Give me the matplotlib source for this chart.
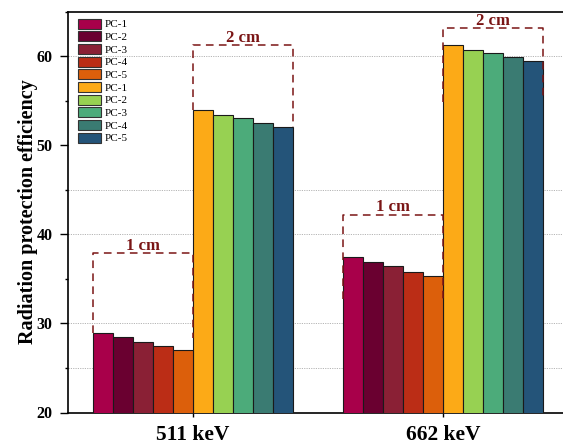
import matplotlib
matplotlib.use('Agg')
import matplotlib.pyplot as plt
from matplotlib.patches import Patch
from matplotlib.ticker import MultipleLocator

# ---------------- data ----------------
groups = ['511 keV', '662 keV']
samples = ['PC-1', 'PC-2', 'PC-3', 'PC-4', 'PC-5']
eff_511_1cm = [28.9, 28.45, 27.95, 27.5, 27.0]
eff_511_2cm = [53.9, 53.4, 53.0, 52.5, 52.0]
eff_662_1cm = [37.4, 36.9, 36.4, 35.8, 35.3]
eff_662_2cm = [61.2, 60.7, 60.3, 59.9, 59.5]
colors_1cm = ['#A8004A', '#6A0030', '#8A2035', '#BB2D16', '#DC5F0B']
colors_2cm = ['#FCAA17', '#97D152', '#4CAB7A', '#3A7B72', '#245479']
grid_levels = [25, 30, 40, 45, 60]

# dashed thickness boxes: (group index, side, top, left_bottom, right_bottom, label)
boxes = [
    (0, 0, 37.9, 28.9, 28.4, '1 cm'),
    (0, 1, 61.2, 53.9, 52.0, '2 cm'),
    (1, 0, 42.2, 32.7, 32.7, '1 cm'),
    (1, 1, 63.1, 54.8, 55.4, '2 cm'),
]

# ---------------- figure ----------------
W, H = 563, 445
fig = plt.figure(figsize=(W / 100, H / 100), dpi=100)
ax = fig.add_axes([68 / W, 32.5 / H, 500 / W, 401 / H])

serif = 'Liberation Serif'
bw = 0.08
series_1cm = [eff_511_1cm, eff_662_1cm]
series_2cm = [eff_511_2cm, eff_662_2cm]

handles = []
for gi in range(len(groups)):
    for i in range(5):
        x = gi - 0.4 + bw * (i + 0.5)
        ax.bar(x, series_1cm[gi][i], width=bw, bottom=0, color=colors_1cm[i],
               edgecolor='#1a1a1a', linewidth=0.8, zorder=3)
        x2 = gi + bw * (i + 0.5)
        ax.bar(x2, series_2cm[gi][i], width=bw, bottom=0, color=colors_2cm[i],
               edgecolor='#1a1a1a', linewidth=0.8, zorder=3)

for i in range(5):
    handles.append(Patch(facecolor=colors_1cm[i], edgecolor='#333333', linewidth=0.8, label=samples[i]))
for i in range(5):
    handles.append(Patch(facecolor=colors_2cm[i], edgecolor='#333333', linewidth=0.8, label=samples[i]))

for g in grid_levels:
    ax.axhline(g, color='#b5b5b5', linestyle=(0, (1.2, 1.2)), linewidth=0.7, zorder=1)

box_color = '#7A1515'
for gi, side, top, lb, rb, lab in boxes:
    xl = gi - 0.4 + 0.4 * side
    xr = xl + 0.4
    ax.plot([xl, xl, xr, xr], [lb, top, top, rb], color=box_color,
            linestyle=(0, (5, 3.5)), linewidth=1.1, zorder=4)
    ax.annotate(lab, xy=((xl + xr) / 2, top), xytext=(0, 2.5), textcoords='offset points',
                ha='center', va='baseline', fontsize=12, fontweight='bold',
                family=serif, color=box_color, zorder=5)

ax.set_xlim(-0.5, 1.5)
ax.set_ylim(20, 65)
ax.set_xticks([0, 1])
ax.set_xticklabels(groups, fontsize=15.5, fontweight='bold', family=serif)
ax.yaxis.set_major_locator(MultipleLocator(10))
ax.yaxis.set_minor_locator(MultipleLocator(5))
ax.set_yticks([20, 30, 40, 50, 60])
for t in ax.get_yticklabels():
    t.set_fontsize(11.5)
    t.set_fontweight('bold')
    t.set_family(serif)
ax.tick_params(axis='y', which='major', direction='out', length=6, width=1.0, pad=5)
ax.tick_params(axis='y', which='minor', direction='out', length=2.5, width=1.0)
ax.tick_params(axis='x', which='major', direction='out', length=3, width=1.0, pad=6)

ax.set_ylabel('Radiation protection efficiency', fontsize=14.5, fontweight='bold', family=serif)
ax.yaxis.set_label_coords(-0.06, 0.5)

for s in ['left', 'bottom', 'top']:
    ax.spines[s].set_linewidth(1.2)
ax.spines['right'].set_visible(False)

leg = ax.legend(handles=handles, loc='upper left', bbox_to_anchor=(0.02, 0.982),
                frameon=False, borderaxespad=0, borderpad=0,
                prop={'family': serif, 'size': 8},
                handlelength=2.1, handleheight=1.0, labelspacing=0.17,
                handletextpad=0.3)

fig.savefig('out.png', dpi=100)
